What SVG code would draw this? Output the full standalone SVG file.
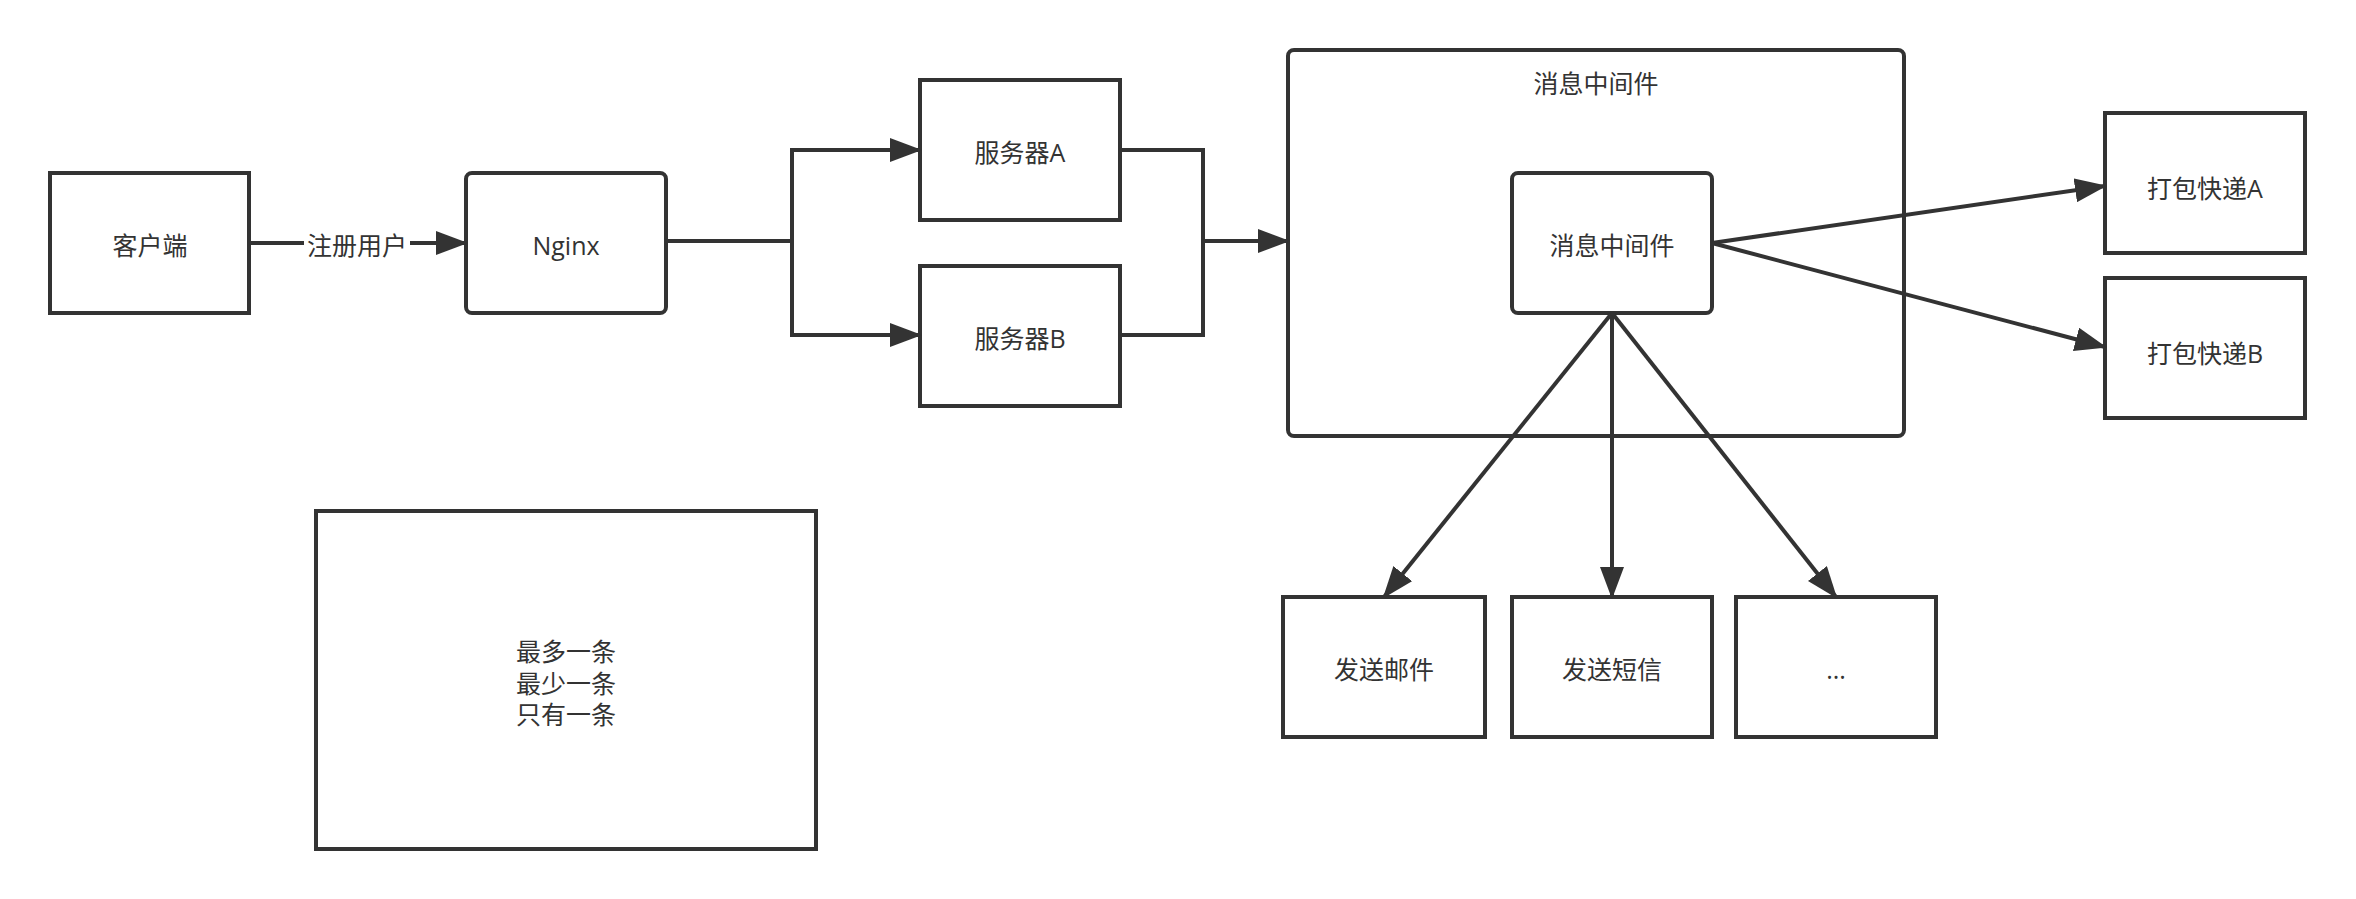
<svg xmlns="http://www.w3.org/2000/svg" width="2356" height="899" viewBox="0 0 2356 899">
<style>
.b{fill:#fff;stroke:#333;stroke-width:4}
.t{font-family:"Open Sans","Noto Sans CJK SC",sans-serif;font-size:25px;fill:#333;text-anchor:middle;dominant-baseline:central}
.e{fill:none;stroke:#333;stroke-width:4}
</style>
<defs><marker id="a" markerWidth="10" markerHeight="8" refX="9" refY="4" orient="auto" markerUnits="userSpaceOnUse" viewBox="0 0 10 8"><path d="M0,0L10,4L0,8Z" fill="#333"/></marker>
<marker id="m" viewBox="0 0 32 24" refX="30" refY="12" markerWidth="32" markerHeight="24" orient="auto" markerUnits="userSpaceOnUse"><path d="M0,0L32,12L0,24Z" fill="#333"/></marker></defs>
<rect width="2356" height="899" fill="#fff"/>
<g id="mq"><rect class="b" x="1288" y="50" width="616" height="386" rx="6"/><text class="t" x="1596" y="83">消息中间件</text></g>
<g id="client"><rect class="b" x="50" y="173" width="199" height="140"/><text class="t" x="150" y="245">客户端</text></g>
<g id="nginx"><rect class="b" x="466" y="173" width="200" height="140" rx="6"/><text class="t" x="566" y="245">Nginx</text></g>
<g id="sa"><rect class="b" x="920" y="80" width="200" height="140"/><text class="t" x="1020" y="152">服务器A</text></g>
<g id="sb"><rect class="b" x="920" y="266" width="200" height="140"/><text class="t" x="1020" y="338">服务器B</text></g>
<g id="inner"><rect class="b" x="1512" y="173" width="200" height="140" rx="6"/><text class="t" x="1612" y="245">消息中间件</text></g>
<g id="pa"><rect class="b" x="2105" y="113" width="200" height="140"/><text class="t" x="2205" y="188">打包快递A</text></g>
<g id="pb"><rect class="b" x="2105" y="278" width="200" height="140"/><text class="t" x="2205" y="353">打包快递B</text></g>
<g id="mail"><rect class="b" x="1283" y="597" width="202" height="140"/><text class="t" x="1384" y="669">发送邮件</text></g>
<g id="sms"><rect class="b" x="1512" y="597" width="200" height="140"/><text class="t" x="1612" y="669">发送短信</text></g>
<g id="more"><rect class="b" x="1736" y="597" width="200" height="140"/><text class="t" x="1836" y="669">...</text></g>
<g id="note"><rect class="b" x="316" y="511" width="500" height="338"/><text class="t" x="566" y="651">最多一条</text><text class="t" x="566" y="683">最少一条</text><text class="t" x="566" y="714">只有一条</text></g>
<g id="edges">
<path class="e" d="M249,243H466" marker-end="url(#m)"/>
<rect x="304" y="228" width="106" height="30" fill="#fff"/><text class="t" x="357" y="245">注册用户</text>
<path class="e" d="M666,241H792V150H920" marker-end="url(#m)"/>
<path class="e" d="M792,241V335H920" marker-end="url(#m)"/>
<path class="e" d="M1120,150H1203V241H1288" marker-end="url(#m)"/>
<path class="e" d="M1120,335H1203V241"/>
<path class="e" d="M1712,243L2105,186" marker-end="url(#m)"/>
<path class="e" d="M1712,243L2105,347" marker-end="url(#m)"/>
<path class="e" d="M1612,313L1384,597" marker-end="url(#m)"/>
<path class="e" d="M1612,313V597" marker-end="url(#m)"/>
<path class="e" d="M1612,313L1836,597" marker-end="url(#m)"/>
</g>
</svg>
